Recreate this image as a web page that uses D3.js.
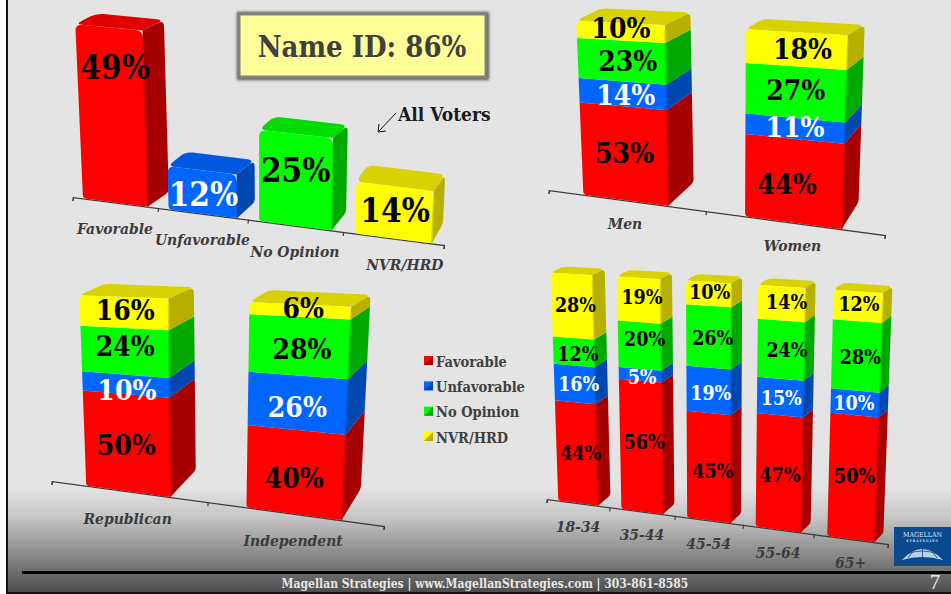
<!DOCTYPE html>
<html>
<head>
<meta charset="utf-8">
<script src="https://cdn.jsdelivr.net/npm/d3@7"></script>
<style>
html, body { margin: 0; padding: 0; background: #fff; }
svg { display: block; }
text { font-family: "DejaVu Serif Condensed", "DejaVu Serif", serif; font-stretch: condensed; font-weight: bold; }
</style>
</head>
<body>
<div id="chart"></div>
<script>
var seriesNames = ["Favorable", "Unfavorable", "No Opinion", "NVR/HRD"];

var allVotersCats = ["Favorable", "Unfavorable", "No Opinion", "NVR/HRD"];
var allVotersVals = [49, 12, 25, 14];

var genderCats = ["Men", "Women"];
var genderFav = [53, 44];
var genderUnf = [14, 11];
var genderNo = [23, 27];
var genderNvr = [10, 18];

var partyCats = ["Republican", "Independent"];
var partyFav = [50, 40];
var partyUnf = [10, 26];
var partyNo = [24, 28];
var partyNvr = [16, 6];

var ageCats = ["18-34", "35-44", "45-54", "55-64", "65+"];
var ageFav = [44, 56, 45, 47, 50];
var ageUnf = [16, 5, 19, 15, 10];
var ageNo = [12, 20, 26, 24, 28];
var ageNvr = [28, 19, 10, 14, 12];

var front = ["#ff0000", "#0066ff", "#00ff00", "#ffff00"];
var side = ["#a60000", "#0047b0", "#00a800", "#b8b000"];
var topc = ["#e00000", "#0058e0", "#00dc00", "#d8d200"];
var labelCol = ["#000", "#fff", "#000", "#000"];

var w = 951;
var h = 594;

var svg = d3.select("#chart").append("svg")
	.attr("width", w)
	.attr("height", h);

var defs = svg.append("defs");
var grad = defs.append("linearGradient").attr("id", "bg")
	.attr("x1", 0).attr("x2", 0).attr("y1", 0).attr("y2", 1);
grad.append("stop").attr("offset", "0.82").attr("stop-color", "#e4e4e4");
grad.append("stop").attr("offset", "0.87").attr("stop-color", "#c6c6c6");
grad.append("stop").attr("offset", "1").attr("stop-color", "#4a4a4a");

var blur = defs.append("filter").attr("id", "soft")
	.attr("x", "-10%").attr("y", "-10%").attr("width", "120%").attr("height", "120%");
blur.append("feGaussianBlur").attr("stdDeviation", 1.5);

svg.append("rect").attr("x", 6).attr("y", 0).attr("width", w - 6).attr("height", h).attr("fill", "url(#bg)");
svg.append("rect").attr("x", 6).attr("y", 0).attr("width", 2).attr("height", h).attr("fill", "#111");
svg.append("rect").attr("x", 6).attr("y", h - 2).attr("width", w - 6).attr("height", 2).attr("fill", "#111");
svg.append("rect").attr("x", 22).attr("y", 571).attr("width", 929).attr("height", 3).attr("fill", "#000");

// polygon with rounded corners, r is one radius per vertex
function roundedPoly(pts, r) {
	var n = pts.length;
	var path = d3.path();
	for (var i = 0; i < n; i++) {
		var p = pts[i];
		var a = pts[(i + n - 1) % n];
		var b = pts[(i + 1) % n];
		var la = Math.hypot(a[0] - p[0], a[1] - p[1]);
		var lb = Math.hypot(b[0] - p[0], b[1] - p[1]);
		var ra = Math.min(r[i], la / 2), rb = Math.min(r[i], lb / 2);
		var s = [p[0] + (a[0] - p[0]) * ra / la, p[1] + (a[1] - p[1]) * ra / la];
		var e = [p[0] + (b[0] - p[0]) * rb / lb, p[1] + (b[1] - p[1]) * rb / lb];
		if (i == 0) path.moveTo(s[0], s[1]); else path.lineTo(s[0], s[1]);
		path.quadraticCurveTo(p[0], p[1], e[0], e[1]);
	}
	path.closePath();
	return path.toString();
}

function drawPanel(v, cats, rows) {
	var g = svg.append("g");
	var band = d3.scaleBand().domain(cats).range([0, 1])
		.paddingInner(v.pi).paddingOuter(v.pi / 2);
	var persp = function(u) { return u / (u + v.k * (1 - u)); };
	var ax = d3.scaleLinear().domain([0, 1]).range([v.x0, v.x1]);
	var ay = d3.scaleLinear().domain([0, 1]).range([v.y0, v.y1]);
	var pct = d3.scaleLinear().domain([0, 1]).range(v.s);
	var dx = d3.scaleLinear().domain([0, 1]).range(v.dx);
	var dyLow = d3.scaleLinear().domain([0, 1]).range(v.dyLow);
	var dyTop = d3.scaleLinear().domain([0, 1]).range(v.dyTop);

	function pt(u, p) {
		var bx = ax(persp(u)), by = ay(persp(u));
		var hh = p * pct(u);
		return [bx + (bx - v.xv) * hh * v.lean, by - hh];
	}
	// the receding edge flattens as the bar gets closer to eye level
	function back(u, p) {
		var f = pt(u, p);
		var dy = d3.scaleLinear().domain([0, v.flatAt]).range([dyLow(u), dyTop(u)]).clamp(true);
		return [f[0] + dx(u), f[1] + dy(p)];
	}

	// slanted axis: a real d3 axis, rotated onto the floor line
	var len = Math.hypot(v.x1 - v.x0, v.y1 - v.y0);
	var along = d3.scaleLinear().domain([0, 1]).range([0, len]);
	var ticks = d3.range(cats.length + 1).map(function(i) { return persp(i / cats.length); });
	var axis = d3.axisBottom(along).tickValues(ticks).tickSize(4).tickFormat("");
	var ag = g.append("g")
		.attr("transform", "translate(" + v.x0 + "," + v.y0 + ") rotate(" + (Math.atan2(v.y1 - v.y0, v.x1 - v.x0) * 180 / Math.PI) + ")")
		.call(axis);
	ag.selectAll("path, line").attr("stroke", "#3c3c3c").attr("stroke-width", 1.2);

	cats.forEach(function(c, ci) {
		var u0 = band(c), u1 = u0 + band.bandwidth();
		var row = rows[ci];
		var base = 0;
		row.forEach(function(d, si) {
			var top = base + d.value;
			var isTop = si == row.length - 1;
			var r = isTop ? v.round : 0;
			var s = d.series;
			var fl = pt(u0, base), fr = pt(u1, base), tr = pt(u1, top), tl = pt(u0, top);
			var br = back(u1, base), bt = back(u1, top);
			g.append("path")
				.attr("d", roundedPoly([fr, br, bt, tr], [0, si == 0 ? v.round / 2 : 0, r, 0]))
				.attr("fill", side[s]);
			if (isTop) {
				g.append("path")
					.attr("d", roundedPoly([tl, tr, bt, [tl[0] + bt[0] - tr[0], tl[1] + bt[1] - tr[1]]], [r, 0, r, r]))
					.attr("fill", topc[s]);
			}
			g.append("path")
				.attr("d", roundedPoly([fl, fr, tr, tl], [si == 0 ? v.round / 2 : 0, si == 0 ? v.round / 2 : 0, r, r]))
				.attr("fill", front[s]);
			// soft bevel where front meets side
			g.append("line")
				.attr("x1", fr[0]).attr("y1", fr[1]).attr("x2", tr[0]).attr("y2", tr[1] + r)
				.attr("stroke", topc[s]).attr("stroke-width", 1.5);
			base = top;
		});
		// labels go on last so a neighbouring segment can't cover them
		base = 0;
		row.forEach(function(d, si) {
			var top = base + d.value;
			var a = pt(u0, (base + top) / 2), b = pt(u1, (base + top) / 2);
			var nudge = v.nudge[ci][si];
			g.append("text")
				.attr("x", (a[0] + b[0]) / 2 + nudge[0])
				.attr("y", (a[1] + b[1]) / 2 + nudge[1])
				.attr("text-anchor", "middle")
				.attr("dominant-baseline", "central")
				.attr("font-size", v.font)
				.attr("fill", labelCol[d.series])
				.text(d.value + "%");
			base = top;
		});
		// category label
		var uc = (u0 + u1) / 2;
		g.append("text")
			.attr("x", ax(persp(uc)) + (v.catDx ? v.catDx[ci] : 0))
			.attr("y", ay(persp(uc)) + v.catDy)
			.attr("text-anchor", "middle")
			.attr("dominant-baseline", "central")
			.attr("font-size", v.catFont)
			.attr("font-style", "italic")
			.attr("fill", "#3c3c3c")
			.text(c);
	});
}

function stacked(fav, unf, no, nvr) {
	return fav.map(function(d, i) {
		return [
			{series: 0, value: fav[i]},
			{series: 1, value: unf[i]},
			{series: 2, value: no[i]},
			{series: 3, value: nvr[i]}
		];
	});
}

drawPanel({
	x0: 73, y0: 197, x1: 444, y1: 245, k: 1.12, pi: 0.24,
	s: [3.55, 3.75], dx: [24, 11], dyLow: [-13, -20], dyTop: [-10, -13], flatAt: 30,
	xv: 260, lean: 0.00025,
	round: 7, font: 33, catFont: 15.5, catDy: 26, catDx: [0, 0, 0, 12],
	nudge: [[[3, -47]], [[1, 2]], [[0, -9]], [[1, -2]]]
}, allVotersCats, allVotersVals.map(function(d, i) { return [{series: i, value: d}]; }));

drawPanel({
	x0: 549, y0: 190, x1: 885, y1: 235, k: 1.14, pi: 0.46,
	s: [1.71, 1.97], dx: [32, 15], dyLow: [-21, -28], dyTop: [-14, -10], flatAt: 100,
	xv: 730, lean: 0.00028,
	round: 6, font: 28, catFont: 15.5, catDy: 23,
	nudge: [
		[[0, 0], [3, 2], [6, 1], [0, -3]],
		[[-7, 4], [0, -1], [0, -2], [6, 0]]
	]
}, genderCats, stacked(genderFav, genderUnf, genderNo, genderNvr));

drawPanel({
	x0: 52, y0: 481, x1: 384, y1: 526, k: 1.13, pi: 0.46,
	s: [1.87, 2.17], dx: [30, 18], dyLow: [-23, -33], dyTop: [-11, -12], flatAt: 100,
	xv: 200, lean: 0.00032,
	round: 6, font: 28, catFont: 15.5, catDy: 27,
	nudge: [
		[[-1, 3], [1, 6], [0, -5], [1, -2]],
		[[-1, 7], [0, 5], [3, 3], [3, -2]]
	]
}, partyCats, stacked(partyFav, partyUnf, partyNo, partyNvr));

drawPanel({
	x0: 547, y0: 499, x1: 888, y1: 544, k: 1.11, pi: 0.365,
	s: [2.27, 2.5], dx: [13, 9], dyLow: [-11, -9], dyTop: [-6, -7], flatAt: 100,
	xv: 710, lean: 0.00022,
	round: 5, font: 19.5, catFont: 15.5, catDy: 23,
	nudge: [
		[[4, 1], [4, 1], [4, 3], [3, 0]],
		[[3, -4], [2, 3], [5, -6], [3, -2]],
		[[4, 5], [2, 3], [4, 2], [1, -1]],
		[[1, 3], [1, 1], [6, 1], [5, -1]],
		[[2, -1], [-1, 1], [4, 2], [1, -2]]
	]
}, ageCats, stacked(ageFav, ageUnf, ageNo, ageNvr));

// Name ID box
svg.append("rect").attr("x", 237).attr("y", 12).attr("width", 252).attr("height", 68)
	.attr("fill", "#555").attr("filter", "url(#soft)");
svg.append("rect").attr("x", 239).attr("y", 14).attr("width", 247).attr("height", 63)
	.attr("fill", "#ffff99").attr("stroke", "#808080").attr("stroke-width", 3);
svg.append("text").attr("x", 362).attr("y", 47).attr("text-anchor", "middle")
	.attr("dominant-baseline", "central").attr("font-size", 29).attr("fill", "#404040")
	.text("Name ID: 86%");

// All Voters callout
svg.append("path").attr("d", "M396,113L379,131M379,124L378,132L386,131")
	.attr("fill", "none").attr("stroke", "#111").attr("stroke-width", 1);
svg.append("text").attr("x", 398).attr("y", 114).attr("dominant-baseline", "central")
	.attr("font-size", 19).attr("fill", "#1a1a1a").text("All Voters");

// legend
var legendY = d3.scalePoint().domain(seriesNames).range([361, 437]);
var lg = svg.append("g").selectAll("g").data(seriesNames).enter().append("g")
	.attr("transform", function(d) { return "translate(424," + legendY(d) + ")"; });
lg.append("rect").attr("x", 0).attr("y", -5).attr("width", 9).attr("height", 9)
	.attr("fill", function(d, i) { return front[i]; });
lg.append("path").attr("d", "M9,-5L9,4L0,4Z")
	.attr("fill", function(d, i) { return side[i]; });
lg.append("text").attr("x", 12).attr("y", 0).attr("dominant-baseline", "central")
	.attr("font-size", 14.5).attr("fill", "#404040").text(function(d) { return d; });

// footer
svg.append("text").attr("x", 485).attr("y", 584).attr("text-anchor", "middle")
	.attr("dominant-baseline", "central").attr("font-size", 12).attr("fill", "#e6e6e6")
	.text("Magellan Strategies | www.MagellanStrategies.com | 303-861-8585");
svg.append("text").attr("x", 935).attr("y", 582).attr("text-anchor", "middle")
	.attr("dominant-baseline", "central").attr("font-size", 21).attr("fill", "#eee")
	.style("font-family", "'Liberation Serif', serif").style("font-weight", "normal")
	.text("7");

// logo
var logo = svg.append("g").attr("transform", "translate(894,527)");
logo.append("rect").attr("width", 57).attr("height", 39).attr("fill", "#0b4a8f");
logo.append("text").attr("x", 28.5).attr("y", 8).attr("text-anchor", "middle")
	.attr("dominant-baseline", "central").attr("font-size", 7).attr("fill", "#dbe6f2")
	.style("font-weight", "normal").text("MAGELLAN");
logo.append("text").attr("x", 28.5).attr("y", 14).attr("text-anchor", "middle")
	.attr("dominant-baseline", "central").attr("font-size", 3.4).attr("letter-spacing", 1).attr("fill", "#dbe6f2")
	.text("STRATEGIES");
logo.append("path").attr("d", "M8,33Q28,11 49,33Q28,27 8,33Z").attr("fill", "#b9cfe6");
logo.append("path").attr("d", "M28.5,21V30M19,24L14,31M38,24L43,31M13,27Q28,21 44,27")
	.attr("fill", "none").attr("stroke", "#0b4a8f").attr("stroke-width", 0.8);
</script>
</body>
</html>
